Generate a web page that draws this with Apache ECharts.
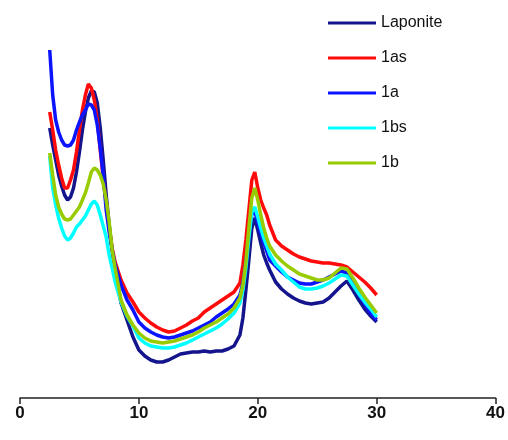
<!DOCTYPE html>
<html>
<head>
<meta charset="utf-8">
<script src="https://cdn.jsdelivr.net/npm/echarts@6/dist/echarts.min.js"></script>
<style>
  html, body { margin: 0; padding: 0; background: #fff; }
  #xrd { width: 508px; height: 440px; }
</style>
</head>
<body>
<div id="xrd"></div>
<script>
// 2theta (degrees)
const theta = [2.5,2.75,3,3.25,3.5,3.75,4,4.25,4.5,4.75,5,5.25,5.5,5.75,6,6.25,6.5,6.75,7,7.25,7.5,7.75,8,
  8.5,9,9.5,10,10.5,11,11.5,12,12.5,13,13.5,14,14.5,15,15.5,16,16.5,17,17.5,18,18.5,
  18.75,19,19.25,19.5,19.75,20,20.25,20.5,20.75,21,
  21.5,22,22.5,23,23.5,24,24.5,25,25.5,26,26.5,27,27.5,28,28.5,29,29.5,30];

// intensity (arbitrary units)
const laponite = [270,253,238,223,212,203,198,201,210,226,246,268,286,300,307,306,295,270,238,203,173,148,126,
  95,78,61,48,42,38,36,36,38,41,44,45,46,46,47,46,47,47,49,52,63,
  80,108,138,170,180,168,155,143,135,128,
  116,109,104,100,97,95,94,95,96,100,106,112,117,108,98,89,82,76];
const s1as = [286,268,248,233,220,210,210,218,228,246,268,288,303,314,310,298,278,248,220,195,170,150,136,
  118,105,96,86,80,75,71,68,66,67,70,73,77,80,86,90,94,98,102,106,115,
  133,158,188,218,226,210,198,190,183,173,
  158,152,148,144,141,139,137,136,135,135,134,133,131,126,121,116,110,103];
const s1a = [348,303,278,266,258,253,252,253,258,268,276,283,288,294,293,288,273,250,223,188,166,148,133,
  113,98,88,76,70,66,63,61,60,61,63,65,67,70,73,76,81,85,89,94,103,
  115,136,163,184,186,176,165,155,147,138,
  132,126,121,118,115,114,114,116,118,121,124,127,125,115,104,94,85,78];
const s1bs = [242,210,193,180,170,162,158,160,165,171,174,178,182,188,194,197,193,183,172,161,143,130,116,
  96,82,72,60,55,52,51,50,50,51,53,55,58,61,64,67,70,74,79,85,95,
  108,130,160,186,191,181,170,160,152,144,
  134,128,121,116,111,109,109,110,112,115,119,123,122,113,104,96,89,81];
const s1b = [245,223,203,191,184,179,178,179,183,187,191,198,205,215,226,230,228,223,214,198,176,148,130,
  98,83,73,65,60,57,56,55,56,57,59,61,63,66,70,73,76,80,84,90,100,
  113,136,170,200,210,198,183,170,160,152,
  143,137,132,128,124,122,120,118,118,120,125,130,129,120,110,101,93,85];

const names = ['Laponite', '1as', '1a', '1bs', '1b'];
const colors = ['#14148c', '#ff0a0a', '#0a14ff', '#00ffff', '#99cc00'];
const values = [laponite, s1as, s1a, s1bs, s1b];

const chart = echarts.init(document.getElementById('xrd'));

const series = names.map((name, i) => ({
  name: name,
  type: 'line',
  data: theta.map((t, k) => [t, values[i][k]]),
  showSymbol: false,
  lineStyle: { color: colors[i], width: 3.5 },
  itemStyle: { color: colors[i] }
}));

chart.setOption({
  animation: false,
  grid: { left: 20, right: 12, top: 18, bottom: 42 },
  legend: {
    orient: 'vertical',
    left: 323,
    top: 10,
    itemWidth: 48,
    itemHeight: 3,
    itemGap: 19,
    icon: 'rect',
    textStyle: { fontFamily: 'Liberation Sans', fontSize: 16, color: '#111', lineHeight: 16 },
    data: names
  },
  xAxis: {
    type: 'value',
    min: 0,
    max: 40,
    interval: 10,
    axisLine: { lineStyle: { color: '#222', width: 1.5 } },
    axisTick: { show: true, length: 6, lineStyle: { color: '#222', width: 1.5 } },
    axisLabel: { margin: 7, fontFamily: 'Liberation Sans', fontSize: 17, fontWeight: 'bold', color: '#111' },
    splitLine: { show: false }
  },
  yAxis: {
    type: 'value',
    min: 0,
    max: 380,
    show: false
  },
  series: series
});
</script>
</body>
</html>
